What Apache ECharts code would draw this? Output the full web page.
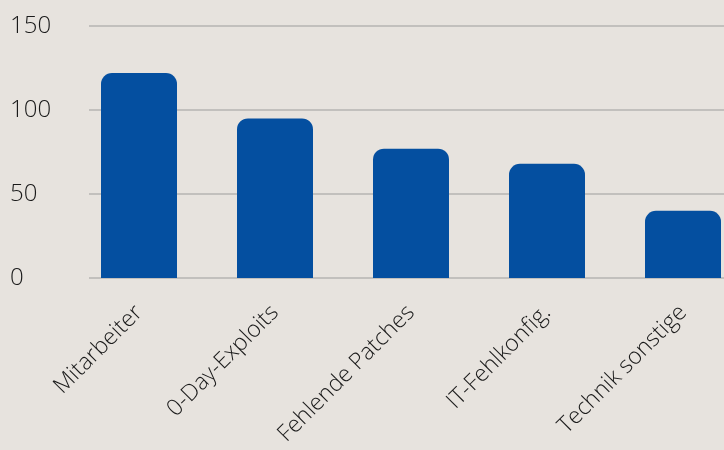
<!DOCTYPE html>
<html>
<head>
<meta charset="utf-8">
<script src="https://cdn.jsdelivr.net/npm/echarts@6/dist/echarts.min.js"></script>
<style>
  html, body { margin: 0; padding: 0; background: #e7e3de; }
  #chart { width: 724px; height: 450px; }
</style>
</head>
<body>
<div id="chart"></div>
<script>
  // Ursachen
  const categories = ['Mitarbeiter', '0-Day-Exploits', 'Fehlende Patches', 'IT-Fehlkonfig.', 'Technik sonstige']
  const values = [122, 95, 77, 68, 40]
  const yTicks = [0, 50, 100, 150]

  const font = '"Open Sans", "DejaVu Sans", sans-serif'
  const chart = echarts.init(document.getElementById('chart'))

  const option = {
    backgroundColor: '#e7e3de',
    animation: false,
    grid: [
      { left: 89, right: 0, top: 26, bottom: 172, outerBoundsMode: 'none' },
      { left: 71, width: 680, top: 26, bottom: 172, outerBoundsMode: 'none' }
    ],
    xAxis: [
      {
        gridIndex: 0,
        type: 'category',
        data: categories,
        show: false
      },
      {
        gridIndex: 1,
        type: 'category',
        data: categories,
        axisLine: { show: false },
        axisTick: { show: false },
        axisLabel: {
          rotate: 45,
          margin: 31,
          interval: 0,
          fontSize: 23,
          fontWeight: 300,
          fontFamily: font,
          color: '#1a1a1a'
        }
      }
    ],
    yAxis: [
      {
        gridIndex: 0,
        type: 'value',
        min: yTicks[0],
        max: yTicks[yTicks.length - 1],
        interval: 50,
        axisLine: { show: false },
        axisTick: { show: false },
        axisLabel: {
          align: 'left',
          margin: 79,
          fontSize: 24,
          fontWeight: 300,
          fontFamily: font,
          color: '#1a1a1a'
        },
        splitLine: { lineStyle: { color: '#c2c0bd', width: 2 } }
      },
      {
        gridIndex: 1,
        type: 'value',
        min: yTicks[0],
        max: yTicks[yTicks.length - 1],
        show: false
      }
    ],
    series: [
      {
        type: 'bar',
        xAxisIndex: 1,
        yAxisIndex: 1,
        barWidth: 76,
        data: values,
        itemStyle: {
          color: '#044fa0',
          borderRadius: [11, 11, 0, 0]
        }
      }
    ]
  }
  chart.setOption(option)
</script>
</body>
</html>
